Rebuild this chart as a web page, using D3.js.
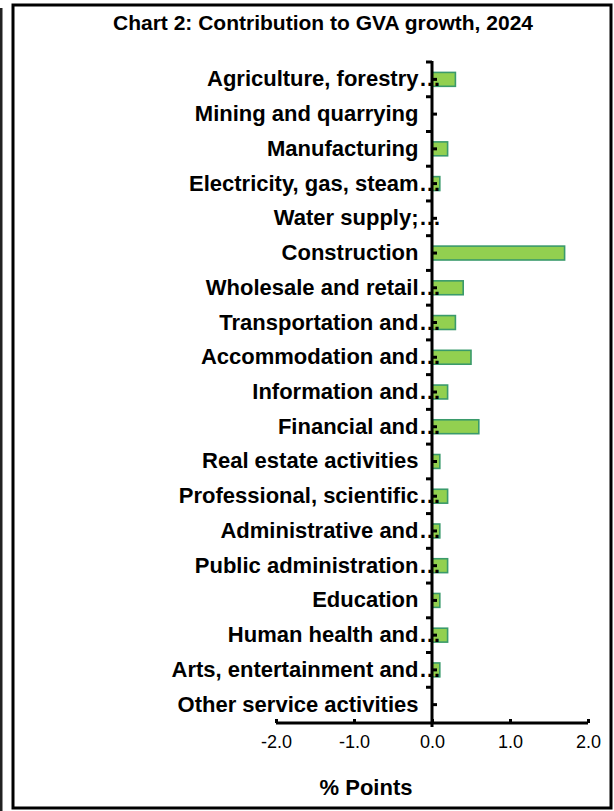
<!DOCTYPE html>
<html>
<head>
<meta charset="utf-8">
<script src="https://cdn.jsdelivr.net/npm/d3@7"></script>
<style>
  html, body { margin: 0; padding: 0; background: #fff; }
  svg { display: block; font-family: "Liberation Sans", Arial, sans-serif; }
</style>
</head>
<body>
<svg id="chart" width="614" height="811"></svg>
<script>
// Sector labels as shown on the category axis (truncated names end with an ellipsis)
const sectors = [
  "Agriculture, forestry", "Mining and quarrying", "Manufacturing",
  "Electricity, gas, steam", "Water supply;", "Construction",
  "Wholesale and retail", "Transportation and", "Accommodation and",
  "Information and", "Financial and", "Real estate activities",
  "Professional, scientific", "Administrative and", "Public administration",
  "Education", "Human health and", "Arts, entertainment and",
  "Other service activities"
];
const truncated = [
  true, false, false, true, true, false, true, true, true,
  true, true, false, true, true, true, false, true, true, false
];
// Contribution to GVA growth, percentage points
const contribution = [
  0.3, 0.0, 0.2, 0.1, 0.0, 1.7, 0.4, 0.3, 0.5,
  0.2, 0.6, 0.1, 0.2, 0.1, 0.2, 0.1, 0.2, 0.1, 0.0
];
const xTicks = [-2, -1, 0, 1, 2];

const svg = d3.select("#chart");

// Outer frame and neighbouring panel edge
svg.append("rect").attr("x", 0).attr("y", 8).attr("width", 2.5).attr("height", 803).attr("fill", "#222");
svg.append("rect").attr("x", 13).attr("y", 5).attr("width", 598).attr("height", 803)
  .attr("fill", "#fff").attr("stroke", "#000").attr("stroke-width", 3);

svg.append("text")
  .attr("x", 323).attr("y", 30)
  .attr("text-anchor", "middle")
  .attr("font-weight", "bold").attr("font-size", 21)
  .text("Chart 2: Contribution to GVA growth, 2024");

const x = d3.scaleLinear().domain([-2, 2]).range([276, 588]);
const y = d3.scaleBand().domain(sectors).range([62, 722]).paddingInner(0.6).paddingOuter(0.3);
const center = d => y(d) + y.bandwidth() / 2;

// Bars
svg.append("g").selectAll("rect")
  .data(sectors.map((s, i) => ({ s, v: contribution[i] })).filter(d => d.v !== 0))
  .join("rect")
  .attr("x", d => Math.min(x(0), x(d.v)))
  .attr("y", d => y(d.s))
  .attr("width", d => Math.abs(x(d.v) - x(0)))
  .attr("height", y.bandwidth())
  .attr("fill", "#92D050")
  .attr("stroke", "#3A9A6B")
  .attr("stroke-width", 1.6);

// Value axis
const fmt = d => d.toFixed(1);
const xAxis = svg.append("g").attr("transform", "translate(0,723)")
  .call(d3.axisBottom(x).tickValues(xTicks).tickSize(-4).tickFormat(fmt));
xAxis.select(".domain").attr("stroke-width", 3).attr("d", `M${x(-2)},0H${x(2)}`);
xAxis.selectAll(".tick line").attr("stroke-width", 3);
xAxis.selectAll(".tick text")
  .attr("y", 12).attr("font-size", 18).attr("font-family", "Liberation Sans, Arial, sans-serif")
  .attr("fill", "#000");

// Category axis line at zero
const x0 = x(0);
svg.append("line").attr("x1", x0).attr("x2", x0).attr("y1", 61).attr("y2", 727)
  .attr("stroke", "#000").attr("stroke-width", 3);

// Boundary ticks between categories
svg.append("g").selectAll("line")
  .data(sectors)
  .join("line")
  .attr("x1", x0 - 6).attr("x2", x0)
  .attr("y1", d => center(d) - y.step() / 2)
  .attr("y2", d => center(d) - y.step() / 2)
  .attr("stroke", "#000").attr("stroke-width", 3);

// Small marks at category centres
svg.append("g").selectAll("line")
  .data(sectors)
  .join("line")
  .attr("x1", x0).attr("x2", x0 + 5)
  .attr("y1", center).attr("y2", center)
  .attr("stroke", "#000").attr("stroke-width", 3);

// Category labels
const labels = svg.append("g").attr("font-weight", "bold").attr("font-size", 22).attr("fill", "#000");
labels.selectAll("text.name")
  .data(sectors)
  .join("text")
  .attr("class", "name")
  .attr("x", 418.5)
  .attr("y", d => center(d) + 7)
  .attr("text-anchor", "end")
  .text(d => d);
labels.selectAll("text.ell")
  .data(sectors.filter((s, i) => truncated[i]))
  .join("text")
  .attr("class", "ell")
  .attr("x", 419)
  .attr("y", d => center(d) + 7)
  .text("\u2026");

// Axis title
svg.append("text")
  .attr("x", 366).attr("y", 795)
  .attr("text-anchor", "middle")
  .attr("font-weight", "bold").attr("font-size", 22)
  .text("% Points");
</script>
</body>
</html>
